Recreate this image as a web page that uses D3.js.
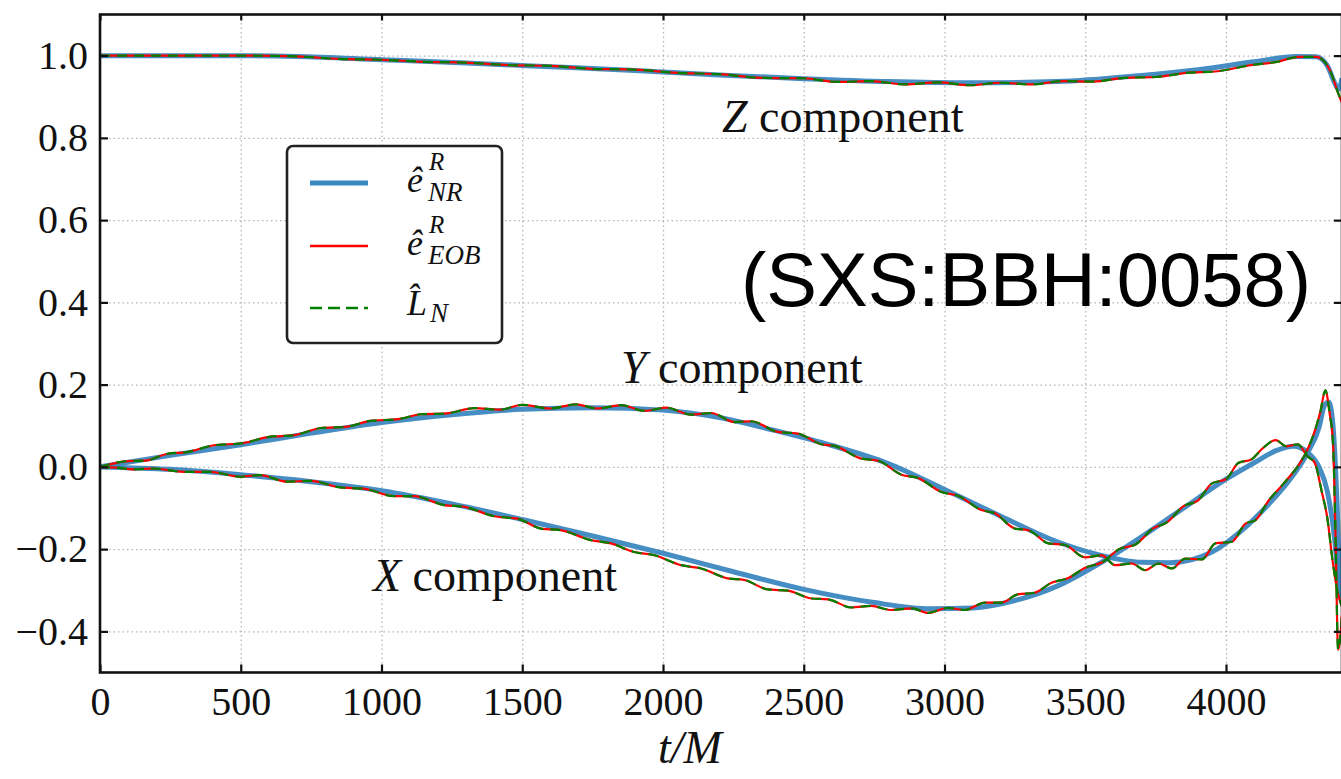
<!DOCTYPE html>
<html>
<head>
<meta charset="utf-8">
<script src="https://cdn.jsdelivr.net/npm/d3@7"></script>
<style>
  body { margin: 0; background: #fff; }
  svg { display: block; }
</style>
</head>
<body>
<div id="chart"></div>
<script>
// ---- data: unit vectors vs t/M, three components ----

// Z component
const zNrT = [0, 400, 700, 1000, 1300, 1600, 1900, 2200, 2500, 2800, 3100, 3400, 3700, 3900, 4100, 4250, 4320, 4360, 4385, 4400, 4412];
const zNr  = [1.0, 1.0, 0.998, 0.99, 0.982, 0.973, 0.964, 0.953, 0.944, 0.937, 0.934, 0.937, 0.952, 0.966, 0.985, 0.998, 0.997, 0.975, 0.935, 0.918, 0.945];
const zEobT = [0, 500, 700, 850, 1000, 1150, 1300, 1450, 1600, 1750, 1900, 2050, 2200, 2350, 2500, 2620, 2740, 2860, 2980, 3090, 3200, 3310, 3420, 3530, 3640, 3750, 3860, 3970, 4080, 4180, 4260, 4320, 4350, 4375, 4395, 4412];
const zEob  = [1.0, 1.0, 0.998, 0.992, 0.99, 0.985, 0.983, 0.977, 0.975, 0.968, 0.966, 0.958, 0.955, 0.946, 0.945, 0.936, 0.938, 0.93, 0.935, 0.928, 0.934, 0.93, 0.938, 0.937, 0.946, 0.948, 0.958, 0.962, 0.976, 0.985, 0.997, 0.997, 0.985, 0.955, 0.915, 0.885];

// Y component
const yNrT = [0, 250, 500, 750, 1000, 1250, 1500, 1750, 2000, 2200, 2400, 2600, 2800, 3000, 3200, 3400, 3550, 3700, 3800, 3950, 4050, 4150, 4230, 4290, 4330, 4350, 4365, 4380, 4395, 4405, 4412];
const yNr  = [0, 0.028, 0.054, 0.082, 0.108, 0.127, 0.14, 0.144, 0.138, 0.12, 0.088, 0.052, 0.008, -0.055, -0.12, -0.182, -0.214, -0.232, -0.233, -0.207, -0.158, -0.092, -0.028, 0.035, 0.095, 0.15, 0.158, 0.1, -0.1, -0.3, -0.33];
const yEobT = [0, 100, 160, 240, 310, 400, 510, 600, 690, 780, 880, 960, 1060, 1140, 1230, 1330, 1420, 1500, 1600, 1690, 1767, 1851, 1934, 2011, 2100, 2171, 2254, 2313, 2408, 2479, 2562, 2609, 2705, 2764, 2847, 2906, 2989, 3048, 3131, 3179, 3250, 3298, 3369, 3428, 3499, 3559, 3606, 3665, 3713, 3760, 3808, 3855, 3915, 3962, 4021, 4069, 4104, 4152, 4199, 4235, 4258, 4294, 4318, 4335, 4353, 4368, 4380, 4390, 4398, 4412];
const yEob  = [0, 0.014, 0.015, 0.032, 0.036, 0.052, 0.058, 0.073, 0.077, 0.094, 0.098, 0.112, 0.116, 0.128, 0.13, 0.143, 0.139, 0.151, 0.142, 0.152, 0.142, 0.15, 0.136, 0.144, 0.127, 0.131, 0.109, 0.111, 0.085, 0.081, 0.055, 0.051, 0.02, 0.015, -0.019, -0.027, -0.061, -0.07, -0.105, -0.113, -0.15, -0.154, -0.186, -0.19, -0.22, -0.215, -0.239, -0.235, -0.251, -0.235, -0.247, -0.223, -0.225, -0.186, -0.182, -0.138, -0.13, -0.081, -0.045, -0.016, 0.004, 0.049, 0.093, 0.134, 0.186, 0.13, 0.06, -0.2, -0.445, -0.36];

// X component
const xNrT = [0, 250, 500, 750, 1000, 1250, 1500, 1750, 2000, 2250, 2500, 2750, 2950, 3100, 3250, 3400, 3550, 3700, 3850, 4000, 4100, 4180, 4240, 4290, 4330, 4360, 4385, 4400, 4412];
const xNr  = [0, -0.006, -0.019, -0.036, -0.058, -0.09, -0.128, -0.168, -0.21, -0.255, -0.298, -0.33, -0.345, -0.343, -0.325, -0.29, -0.235, -0.17, -0.1, -0.03, 0.01, 0.04, 0.05, 0.035, 0.0, -0.06, -0.17, -0.28, -0.33];
const xEobT = [0, 60, 119, 190, 297, 391, 498, 569, 664, 747, 854, 937, 1044, 1115, 1222, 1293, 1400, 1483, 1566, 1637, 1744, 1815, 1898, 1970, 2064, 2135, 2230, 2289, 2372, 2444, 2527, 2586, 2669, 2740, 2811, 2883, 2942, 3013, 3072, 3143, 3203, 3260, 3320, 3380, 3440, 3500, 3560, 3620, 3680, 3740, 3790, 3850, 3900, 3950, 4000, 4045, 4090, 4130, 4176, 4215, 4255, 4290, 4315, 4340, 4360, 4378, 4395, 4412];
const xEob  = [0, -0.002, -0.006, -0.004, -0.012, -0.012, -0.024, -0.02, -0.036, -0.034, -0.05, -0.053, -0.071, -0.071, -0.093, -0.097, -0.12, -0.126, -0.15, -0.154, -0.178, -0.186, -0.207, -0.215, -0.239, -0.247, -0.271, -0.275, -0.298, -0.301, -0.32, -0.322, -0.342, -0.338, -0.348, -0.344, -0.355, -0.343, -0.348, -0.33, -0.33, -0.31, -0.306, -0.282, -0.27, -0.245, -0.232, -0.2, -0.188, -0.15, -0.135, -0.095, -0.082, -0.04, -0.03, 0.01, 0.018, 0.045, 0.065, 0.05, 0.055, 0.025, 0.01, -0.06, -0.125, -0.225, -0.3, -0.34];

// L_N tracks the EOB frame vector
const zLn = zEob, yLn = yEob, xLn = xEob;

const xTicks = [0, 500, 1000, 1500, 2000, 2500, 3000, 3500, 4000];
const yTicks = [-0.4, -0.2, 0.0, 0.2, 0.4, 0.6, 0.8, 1.0];

// ---- layout ----
let width = 1341, height = 779;
let plotL = 100, plotR = 1342, plotT = 14.5, plotB = 672.5;

let svg = d3.select('#chart').append('svg')
  .attr('xmlns', 'http://www.w3.org/2000/svg')
  .attr('width', width)
  .attr('height', height)
  .style('background', '#fff');

let x = d3.scaleLinear().domain([0, 4412]).range([plotL, plotR]);
let y = d3.scaleLinear().domain([-0.5, 1.1]).range([plotB, plotT]);

svg.append('defs').append('clipPath').attr('id', 'plotclip')
  .append('rect')
  .attr('x', plotL).attr('y', plotT)
  .attr('width', plotR - plotL).attr('height', plotB - plotT);

// dotted grid
let grid = svg.append('g').attr('class', 'grid');
grid.append('g')
  .attr('transform', 'translate(0,' + plotB + ')')
  .call(d3.axisBottom(x).tickValues(xTicks).tickSize(-(plotB - plotT)).tickFormat(''));
grid.append('g')
  .attr('transform', 'translate(' + plotL + ',0)')
  .call(d3.axisLeft(y).tickValues(yTicks).tickSize(-(plotR - plotL)).tickFormat(''));
grid.selectAll('.domain').remove();
grid.selectAll('line')
  .attr('stroke', '#b4b4b4')
  .attr('stroke-width', 1.3)
  .attr('stroke-dasharray', '1.5,3');

// curves
let series = [
  { t: zNrT, v: zNr, color: '#3b87c0', w: 5, dash: null, op: 0.95 },
  { t: yNrT, v: yNr, color: '#3b87c0', w: 5, dash: null, op: 0.95 },
  { t: xNrT, v: xNr, color: '#3b87c0', w: 5, dash: null, op: 0.95 },
  { t: zEobT, v: zEob, color: '#ff0000', w: 2.2, dash: null, op: 1 },
  { t: yEobT, v: yEob, color: '#ff0000', w: 2.2, dash: null, op: 1 },
  { t: xEobT, v: xEob, color: '#ff0000', w: 2.2, dash: null, op: 1 },
  { t: zEobT, v: zLn, color: '#008000', w: 2.2, dash: '10,7', op: 1 },
  { t: yEobT, v: yLn, color: '#008000', w: 2.2, dash: '10,7', op: 1 },
  { t: xEobT, v: xLn, color: '#008000', w: 2.2, dash: '10,7', op: 1 }
];

let line = d3.line()
  .x(function(d) { return x(d[0]); })
  .y(function(d) { return y(d[1]); })
  .curve(d3.curveMonotoneX);

svg.append('g').attr('clip-path', 'url(#plotclip)')
  .selectAll('path')
  .data(series)
  .enter().append('path')
  .attr('d', function(s) { return line(s.t.map(function(t, i) { return [t, s.v[i]]; })); })
  .attr('fill', 'none')
  .attr('stroke', function(s) { return s.color; })
  .attr('stroke-width', function(s) { return s.w; })
  .attr('stroke-opacity', function(s) { return s.op; })
  .attr('stroke-dasharray', function(s) { return s.dash; })
  .attr('stroke-linejoin', 'round');

// axes: ticks point inward on all four sides
let tickFont = function(g) {
  g.selectAll('text')
    .attr('font-family', '"Liberation Serif", "Times New Roman", serif')
    .attr('font-size', 40)
    .attr('fill', '#111');
  g.selectAll('line').attr('stroke', '#111').attr('stroke-width', 2.2);
  g.select('.domain').remove();
};

svg.append('g')
  .attr('transform', 'translate(0,' + plotB + ')')
  .call(d3.axisBottom(x).tickValues(xTicks).tickSize(-8).tickPadding(14).tickFormat(d3.format('d')))
  .call(tickFont);
svg.append('g')
  .attr('transform', 'translate(' + plotL + ',0)')
  .call(d3.axisLeft(y).tickValues(yTicks).tickSize(-8).tickPadding(12).tickFormat(d3.format('.1f')))
  .call(tickFont);
svg.append('g')
  .attr('transform', 'translate(0,' + plotT + ')')
  .call(d3.axisTop(x).tickValues(xTicks).tickSize(-6).tickFormat(''))
  .call(tickFont);
svg.append('g')
  .attr('transform', 'translate(' + plotR + ',0)')
  .call(d3.axisRight(y).tickValues(yTicks).tickSize(-8).tickFormat(''))
  .call(tickFont);

// frame
svg.append('rect')
  .attr('x', plotL).attr('y', plotT)
  .attr('width', plotR - plotL).attr('height', plotB - plotT)
  .attr('fill', 'none')
  .attr('stroke', '#111')
  .attr('stroke-width', 2.6);

// labels
let serif = '"Liberation Serif", "Times New Roman", serif';

svg.append('text')
  .attr('x', 690).attr('y', 763)
  .attr('text-anchor', 'middle')
  .attr('font-family', serif).attr('font-size', 46).attr('font-style', 'italic')
  .attr('fill', '#111')
  .text('t/M');

let compLabels = [
  { letter: 'Z', x: 722, y: 132 },
  { letter: 'Y', x: 621, y: 383 },
  { letter: 'X', x: 373, y: 591 }
];
compLabels.forEach(function(c) {
  let t = svg.append('text')
    .attr('x', c.x).attr('y', c.y)
    .attr('font-family', serif).attr('font-size', 46)
    .attr('fill', '#111');
  t.append('tspan').attr('font-style', 'italic').text(c.letter);
  t.append('tspan').text(' component');
});

svg.append('text')
  .attr('x', 741).attr('y', 306)
  .attr('font-family', '"Liberation Sans", Helvetica, Arial, sans-serif')
  .attr('font-size', 76)
  .attr('textLength', 570)
  .attr('fill', '#000')
  .text('(SXS:BBH:0058)');

// legend
let legend = svg.append('g');
legend.append('rect')
  .attr('x', 287).attr('y', 146)
  .attr('width', 215).attr('height', 197)
  .attr('rx', 6).attr('ry', 6)
  .attr('fill', '#fff')
  .attr('stroke', '#222')
  .attr('stroke-width', 2.6);

let legendItems = [
  { color: '#3b87c0', w: 5, dash: null, y: 183, base: '\u00ea', sup: 'R', sub: 'NR' },
  { color: '#ff0000', w: 2.4, dash: null, y: 246, base: '\u00ea', sup: 'R', sub: 'EOB' },
  { color: '#008000', w: 2.4, dash: '12,6', y: 308, base: 'L\u0302', sup: '', sub: 'N' }
];
legend.selectAll('line.key')
  .data(legendItems)
  .enter().append('line')
  .attr('class', 'key')
  .attr('x1', 310).attr('x2', 368)
  .attr('y1', function(d) { return d.y; })
  .attr('y2', function(d) { return d.y; })
  .attr('stroke', function(d) { return d.color; })
  .attr('stroke-width', function(d) { return d.w; })
  .attr('stroke-dasharray', function(d) { return d.dash; });

// each label is one text: base symbol, then superscript and subscript tspans
legendItems.forEach(function(d) {
  let base = d.sup ? d.y + 9 : d.y + 7;
  let t = legend.append('text')
    .attr('x', 407).attr('y', base)
    .attr('font-family', serif)
    .attr('font-style', 'italic').attr('fill', '#111');
  t.append('tspan').attr('font-size', 36).text(d.base);
  if (d.sup) {
    t.append('tspan').attr('x', 429).attr('y', base - 22).attr('font-size', 25).text(d.sup);
  }
  t.append('tspan').attr('x', d.sup ? 428 : 430).attr('y', base + (d.sup ? 9 : 7)).attr('font-size', 27).text(d.sub);
});
</script>
</body>
</html>
